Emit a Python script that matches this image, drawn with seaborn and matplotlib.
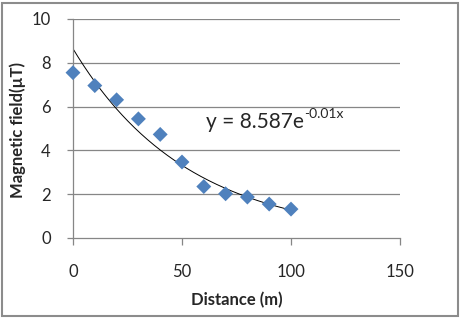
import matplotlib
matplotlib.use("Agg")
import matplotlib.pyplot as plt
import seaborn as sns
import numpy as np
import pandas as pd
from matplotlib.patches import Rectangle

# data
distance = [0, 10, 20, 30, 40, 50, 60, 70, 80, 90, 100]
field = [7.55, 6.96, 6.31, 5.44, 4.73, 3.47, 2.35, 2.02, 1.87, 1.55, 1.32]
x_ticks = [0, 50, 100, 150]
y_ticks = [0, 2, 4, 6, 8, 10]

df = pd.DataFrame({"Distance": distance, "Field": field})

# exponential trendline (Excel style, least squares on log y)
b, ln_a = np.polyfit(df.Distance, np.log(df.Field), 1)
xs = np.linspace(0, 100, 200)
trend = pd.DataFrame({"x": xs, "y": np.exp(ln_a) * np.exp(b * xs)})

sns.set_style("white")
plt.rcParams["font.family"] = ["Lato", "DejaVu Sans"]

fig = plt.figure(figsize=(4.61, 3.18), dpi=100)
ax = fig.add_axes([73 / 461, 1 - 238 / 318, 327 / 461, 219 / 318])

grid_col = "#868686"
for v in y_ticks[1:]:
    ax.axhline(v, color=grid_col, lw=0.9, zorder=0)

sns.lineplot(data=trend, x="x", y="y", color="black", lw=0.7, ax=ax, zorder=2)
sns.scatterplot(data=df, x="Distance", y="Field", marker="D", s=58,
                color="#4F81BD", edgecolor="none", ax=ax, zorder=3, clip_on=False)

ax.set_xlim(0, 150)
ax.set_ylim(0, 10)
ax.set_xticks(x_ticks)
ax.set_yticks(y_ticks)
for s in ["top", "right"]:
    ax.spines[s].set_visible(False)
for s in ["left", "bottom"]:
    ax.spines[s].set_color(grid_col)
    ax.spines[s].set_linewidth(0.9)
ax.tick_params(axis="x", direction="out", length=5, width=0.9, color=grid_col,
               pad=14, labelsize=12, bottom=True)
ax.tick_params(axis="y", direction="out", length=4, width=0.9, color=grid_col,
               pad=12, labelsize=12, left=True)

ax.set_xlabel("Distance (m)", fontsize=12, fontweight="bold", va="top")
ax.set_ylabel("Magnetic field(µT)", fontsize=12, fontweight="bold")
ax.xaxis.set_label_coords(0.50, -0.245)
ax.yaxis.set_label_coords(-0.145, 0.495)

# trendline equation with a plain hyphen in the exponent
eq = ax.text(61.0, 5.3, "y = 8.587e", fontsize=15, va="center", ha="left")
ax.annotate("-0.01x", xy=(1.0, 0.62), xycoords=eq, fontsize=10,
            va="bottom", ha="left")

# chart area border
fig.patches.append(Rectangle((0.004, 0.006), 0.990, 0.986, transform=fig.transFigure,
                             fill=False, edgecolor="#8c8c8c", lw=1.5))

fig.savefig("out.png", dpi=100)
